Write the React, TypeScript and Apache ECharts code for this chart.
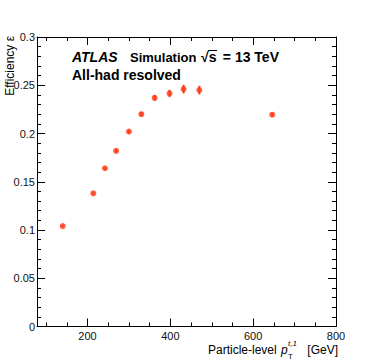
import React, { useEffect, useRef } from "react";
import * as echarts from "echarts";

const ptValues = [140, 214, 242, 269, 300, 330, 362, 398, 432, 470, 646];
const effValues = [0.104, 0.138, 0.164, 0.182, 0.202, 0.220, 0.237, 0.2415, 0.246, 0.245, 0.2195];
const effErrors = [0.001, 0.0012, 0.0013, 0.0015, 0.0018, 0.0022, 0.003, 0.0038, 0.0045, 0.0045, 0.0018];
const xMajorTicks = [200, 400, 600, 800];
const xMinorTicks = [100, 150, 250, 300, 350, 450, 500, 550, 650, 700, 750];
const yTickLabels = ["0", "0.05", "0.1", "0.15", "0.2", "0.25", "0.3"];

const MARK = "#ff3a14";
const FONT = "'Liberation Sans', Arial, Helvetica, sans-serif";

export default function App() {
  const ref = useRef<HTMLDivElement>(null);
  useEffect(() => {
    document.body.style.margin = "0";
    const chart = echarts.init(ref.current!, null, { renderer: "svg" });
    const xMin = 78, xMax = 800;
    const baseX = (pos: "bottom" | "top", ticks: number[], len: number, labels: boolean, line: boolean) => ({
      type: "value",
      position: pos,
      min: xMin,
      max: xMax,
      splitLine: { show: false },
      axisLine: { show: line, onZero: false, lineStyle: { color: "#000", width: 1 } },
      axisTick: { show: true, inside: true, length: len, customValues: ticks, lineStyle: { color: "#000", width: 1 } },
      axisLabel: labels
        ? { show: true, customValues: xMajorTicks, color: "#111", fontSize: 11, fontFamily: FONT, margin: 4 }
        : { show: false },
    });
    const baseY = (pos: "left" | "right", labels: boolean) => ({
      type: "value",
      position: pos,
      min: 0,
      max: 0.3,
      interval: 0.05,
      splitLine: { show: false },
      axisLine: { show: true, lineStyle: { color: "#000", width: 1 } },
      axisTick: { show: true, inside: true, length: 8, lineStyle: { color: "#000", width: 1 } },
      minorTick: { show: true, splitNumber: 5, length: 4, lineStyle: { color: "#000", width: 1 } },
      axisLabel: labels
        ? {
            show: true,
            color: "#111",
            fontSize: 11,
            fontFamily: FONT,
            margin: 2,
            formatter: (v: number) => yTickLabels[Math.round(v / 0.05)] ?? "",
          }
        : { show: false },
    });
    const scatterData = ptValues.map((x, i) => [x, effValues[i]]);
    const errData = ptValues.map((x, i) => [x, effValues[i] - effErrors[i], effValues[i] + effErrors[i]]);
    chart.setOption({
      animation: false,
      backgroundColor: "#fff",
      grid: { left: 37, right: 38, top: 37, bottom: 36.5, containLabel: false },
      xAxis: [
        baseX("bottom", xMajorTicks, 8, true, true),
        baseX("bottom", xMinorTicks, 4, false, false),
        baseX("top", xMajorTicks, 8, false, true),
        baseX("top", xMinorTicks, 4, false, false),
      ],
      yAxis: [baseY("left", true), baseY("right", false)],
      series: [
        {
          type: "custom",
          xAxisIndex: 0,
          yAxisIndex: 0,
          data: errData,
          renderItem: (params: any, api: any) => {
            const p1 = api.coord([api.value(0), api.value(1)]);
            const p2 = api.coord([api.value(0), api.value(2)]);
            return {
              type: "line",
              shape: { x1: p1[0], y1: p1[1], x2: p2[0], y2: p2[1] },
              style: { stroke: MARK, lineWidth: 2 },
            };
          },
          z: 2,
        },
        {
          type: "scatter",
          xAxisIndex: 0,
          yAxisIndex: 0,
          data: scatterData,
          symbol: "circle",
          symbolSize: 6,
          itemStyle: { color: MARK },
          z: 3,
        },
      ],
      graphic: [
        { type: "text", x: 72, y: 57, style: { text: "ATLAS", font: `italic bold 14px ${FONT}`, fill: "#000", verticalAlign: "middle" } },
        { type: "text", x: 130, y: 57, style: { text: "Simulation", font: `bold 13px ${FONT}`, fill: "#000", verticalAlign: "middle" } },
        { type: "text", x: 201, y: 57, style: { text: "√s", font: `bold 14px ${FONT}`, fill: "#000", verticalAlign: "middle" } },
        { type: "line", shape: { x1: 208, y1: 50.5, x2: 217, y2: 50.5 }, style: { stroke: "#000", lineWidth: 1 } },
        { type: "text", x: 279, y: 57, style: { text: "= 13 TeV", font: `bold 14px ${FONT}`, fill: "#000", align: "right", verticalAlign: "middle" } },
        { type: "text", x: 72, y: 75, style: { text: "All-had resolved", font: `bold 14px ${FONT}`, fill: "#000", verticalAlign: "middle" } },
        {
          type: "text",
          x: 10,
          y: 36,
          rotation: Math.PI / 2,
          style: { text: "Efficiency ε", font: `12px ${FONT}`, fill: "#000", align: "right", verticalAlign: "middle" },
        },
        { type: "text", x: 280, y: 350, style: { text: "Particle-level ", font: `12px ${FONT}`, fill: "#000", align: "right", verticalAlign: "middle" } },
        { type: "text", x: 281, y: 350, style: { text: "p", font: `italic 12px ${FONT}`, fill: "#000", verticalAlign: "middle" } },
        { type: "text", x: 288, y: 343, style: { text: "t,1", font: `italic 8px ${FONT}`, fill: "#000", verticalAlign: "middle" } },
        { type: "text", x: 288, y: 356, style: { text: "T", font: `8px ${FONT}`, fill: "#000", verticalAlign: "middle" } },
        { type: "text", x: 338, y: 350, style: { text: "[GeV]", font: `12px ${FONT}`, fill: "#000", align: "right", verticalAlign: "middle" } },
      ],
    });
    return () => chart.dispose();
  }, []);
  return <div ref={ref} style={{ width: 374, height: 363 }} />;
}
